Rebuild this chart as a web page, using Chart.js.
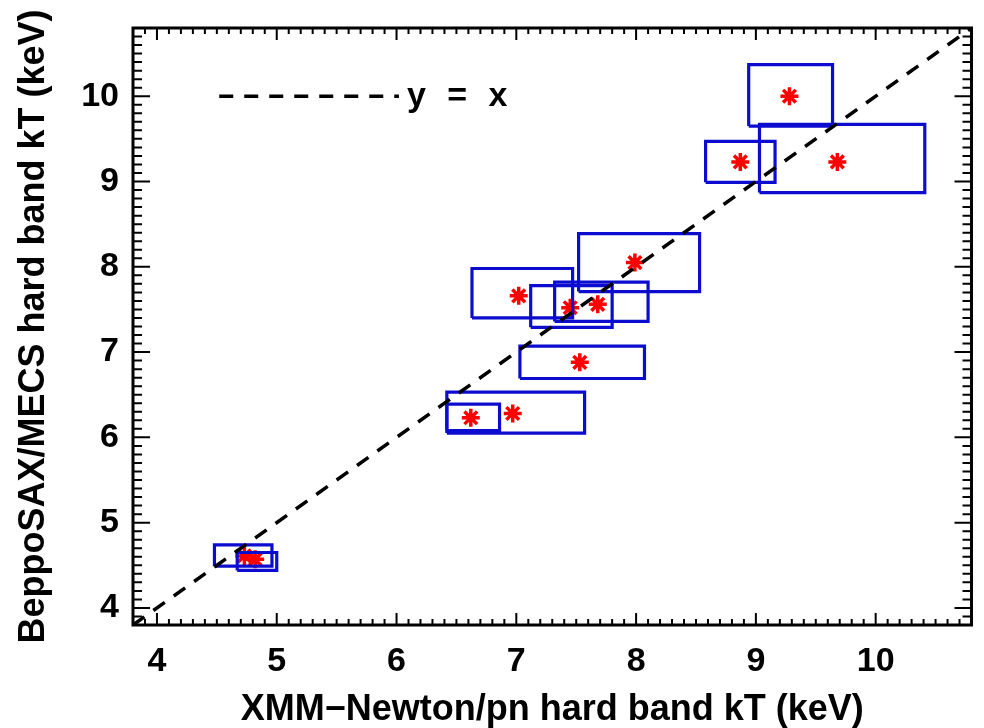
<!DOCTYPE html>
<html>
<head>
<meta charset="utf-8">
<title>XMM-Newton vs BeppoSAX hard band kT</title>
<script src="https://cdn.jsdelivr.net/npm/chart.js@4.4.1/dist/chart.umd.min.js"></script>
<style>
  html, body { margin: 0; padding: 0; background: #fff; }
  #wrap { width: 984px; height: 728px; }
</style>
</head>
<body>
<div id="wrap"><canvas id="ktChart" width="984" height="728"></canvas></div>
<script>
// best-fit temperatures (keV)
const xmmKT = [9.28, 8.87, 9.68, 7.99, 7.02, 7.45, 7.68, 7.53, 6.97, 6.62, 4.73, 4.82];
const saxKT = [10.00, 9.23, 9.23, 8.05, 7.66, 7.52, 7.56, 6.88, 6.28, 6.23, 4.61, 4.57];

// error ranges, drawn as boxes
const xmmLo = [8.94, 8.58, 9.03, 7.52, 6.63, 7.12, 7.32, 7.03, 6.42, 6.42, 4.48, 4.67];
const xmmHi = [9.64, 9.16, 10.41, 8.53, 7.47, 7.80, 8.10, 8.07, 7.57, 6.86, 4.96, 5.00];
const saxLo = [9.65, 8.99, 8.87, 7.71, 7.40, 7.29, 7.36, 6.69, 6.05, 6.08, 4.49, 4.44];
const saxHi = [10.37, 9.47, 9.67, 8.39, 7.98, 7.78, 7.82, 7.07, 6.53, 6.39, 4.74, 4.65];

// axes
const axisRange = [3.8, 10.8];
const tickLabels = [4, 5, 6, 7, 8, 9, 10];

const BLUE = '#0c0cd0';
const RED = '#ff0000';
const FONT = 'Liberation Sans, Arial, Helvetica, sans-serif';

// error boxes as closed outlines
const boxSets = xmmKT.map((_, i) => ({
    label: 'box' + i,
    data: [
        { x: xmmLo[i], y: saxLo[i] },
        { x: xmmHi[i], y: saxLo[i] },
        { x: xmmHi[i], y: saxHi[i] },
        { x: xmmLo[i], y: saxHi[i] },
        { x: xmmLo[i], y: saxLo[i] }
    ],
    showLine: true,
    borderColor: BLUE,
    borderWidth: 3.2,
    borderJoinStyle: 'miter',
    pointRadius: 0,
    pointHoverRadius: 0,
    fill: false,
    order: 2
}));

const pointSet = {
    label: 'kT',
    data: xmmKT.map((v, i) => ({ x: v, y: saxKT[i] })),
    showLine: false,
    pointStyle: 'star',
    pointRadius: 9,
    pointBorderWidth: 3.5,
    pointBorderColor: RED,
    pointBackgroundColor: RED,
    order: 3
};

const identitySet = {
    label: 'y = x',
    data: axisRange.map(v => ({ x: v, y: v })),
    showLine: true,
    borderColor: '#000',
    borderWidth: 3.5,
    borderDash: [14, 11],
    pointRadius: 0,
    order: 1
};

// frame, inward ticks on all four sides, and the little y = x key
const framePlugin = {
    id: 'frame',
    afterDatasetsDraw(chart) {
        const { ctx, chartArea: a, scales: { x, y } } = chart;
        ctx.save();
        ctx.strokeStyle = '#000';
        ctx.lineCap = 'butt';

        ctx.lineWidth = 2;
        for (let k = Math.round(axisRange[0] * 10); k <= Math.round(axisRange[1] * 10); k++) {
            const v = k / 10;
            const major = k % 10 === 0;
            const px = x.getPixelForValue(v);
            const py = y.getPixelForValue(v);
            const lx = major ? 12 : 6;
            const ly = major ? 17 : 9;
            ctx.beginPath();
            ctx.moveTo(px, a.bottom); ctx.lineTo(px, a.bottom - lx);
            ctx.moveTo(px, a.top); ctx.lineTo(px, a.top + lx);
            ctx.moveTo(a.left, py); ctx.lineTo(a.left + ly, py);
            ctx.moveTo(a.right, py); ctx.lineTo(a.right - ly, py);
            ctx.stroke();
        }

        ctx.lineWidth = 3;
        ctx.strokeRect(a.left, a.top, a.right - a.left, a.bottom - a.top);

        // key
        const key = chart.options.plugins.frame;
        const ky = y.getPixelForValue(key.y);
        const k0 = x.getPixelForValue(key.x[0]);
        const k1 = x.getPixelForValue(key.x[1]);
        ctx.lineWidth = 3.5;
        ctx.setLineDash([14, 11]);
        ctx.beginPath();
        ctx.moveTo(k0, ky);
        ctx.lineTo(k1, ky);
        ctx.stroke();
        ctx.setLineDash([]);
        ctx.fillStyle = '#000';
        ctx.font = 'bold 34px ' + FONT;
        ctx.textBaseline = 'middle';
        ctx.textAlign = 'left';
        ctx.letterSpacing = '6px';
        ctx.fillText('y = x', k1 + 8, ky);
        ctx.restore();
    }
};

// no extra room for overhanging tick labels: the frame sits at fixed pixels
function noOverhang(s) {
    s.paddingTop = 0;
    s.paddingBottom = 0;
    s.paddingLeft = 0;
    s.paddingRight = 0;
}

new Chart(document.getElementById('ktChart'), {
    type: 'scatter',
    data: { datasets: [identitySet, ...boxSets, pointSet] },
    options: {
        responsive: false,
        animation: false,
        events: [],
        layout: { padding: { top: 28, right: 8, left: 0, bottom: 0 } },
        plugins: {
            legend: { display: false },
            tooltip: { enabled: false },
            frame: { x: [4.52, 6.02], y: 10 }
        },
        scales: {
            x: {
                type: 'linear',
                min: axisRange[0],
                max: axisRange[1],
                afterBuildTicks: s => { s.ticks = tickLabels.map(v => ({ value: v })); },
                afterFit: s => { s.height = 103; noOverhang(s); },
                grid: { display: false, drawTicks: false },
                border: { display: false },
                ticks: {
                    color: '#000',
                    padding: 16,
                    maxRotation: 0,
                    font: { family: FONT, size: 34, weight: 'bold' }
                },
                title: {
                    display: true,
                    text: 'XMM\u2212Newton/pn hard band kT (keV)',
                    color: '#000',
                    padding: { top: 0, bottom: 0 },
                    font: { family: FONT, size: 36, weight: 'bold', lineHeight: 1 }
                }
            },
            y: {
                type: 'linear',
                min: axisRange[0],
                max: axisRange[1],
                afterBuildTicks: s => { s.ticks = tickLabels.map(v => ({ value: v })); },
                afterFit: s => { s.width = 133; noOverhang(s); },
                grid: { display: false, drawTicks: false },
                border: { display: false },
                ticks: {
                    color: '#000',
                    padding: 14,
                    font: { family: FONT, size: 34, weight: 'bold' }
                },
                title: {
                    display: true,
                    text: 'BeppoSAX/MECS hard band kT (keV)',
                    color: '#000',
                    padding: { top: 16, bottom: 0 },
                    font: { family: FONT, size: 36, weight: 'bold', lineHeight: 1 }
                }
            }
        }
    },
    plugins: [framePlugin]
});
</script>
</body>
</html>
